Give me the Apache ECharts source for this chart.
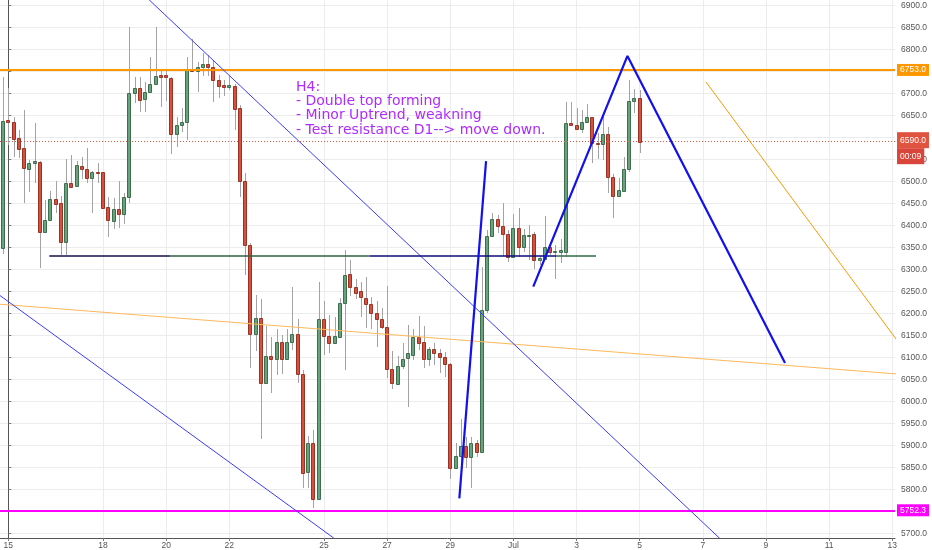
<!DOCTYPE html>
<html><head><meta charset="utf-8">
<script src="https://cdn.jsdelivr.net/npm/echarts@6/dist/echarts.min.js"></script>
<style>html,body{margin:0;padding:0;background:#fff}#c{width:932px;height:550px}</style>
</head><body><div id="c"></div>
<script>
// 4-hour bars; hours counted from 15 Jun 00:00
const firstBarHour = -4;
const barHours = 4;
const opens  = [6349,6639,6635,6599,6575,6529,6541,6543,6385,6412,6459,6450,6361,6496,6489,6535,6528,6508,6521,6520,6442,6410,6436,6426,6464,6700,6711,6686,6703,6720,6742,6741,6735,6608,6629,6635,6753,6751,6760,6767,6759,6730,6718,6715,6716,6666,6501,6355,6153,6189,6042,6103,6095,6134,6095,6135,6152,6061,5840,5905,5777,6186,6149,6133,6147,6224,6289,6260,6251,6234,6221,6201,6186,6168,6073,6039,6080,6098,6105,6145,6134,6095,6119,6109,6101,6085,5848,5876,5899,5873,5905,5885,6207,6375,6414,6398,6380,6329,6393,6351,6375,6380,6321,6323,6350,6339,6340,6340,6632,6628,6618,6634,6645,6587,6584,6607,6509,6467,6479,6527,6683,6689];
const closes = [6638,6634,6597,6573,6531,6542,6545,6385,6413,6459,6448,6361,6496,6486,6536,6527,6508,6520,6520,6439,6412,6436,6426,6464,6700,6711,6685,6704,6721,6740,6738,6736,6608,6629,6635,6753,6751,6760,6767,6759,6730,6717,6715,6718,6664,6501,6355,6153,6189,6042,6103,6095,6134,6095,6135,6152,6061,5836,5905,5777,6186,6149,6132,6148,6224,6288,6259,6245,6236,6220,6201,6186,6168,6073,6041,6080,6095,6109,6145,6133,6095,6119,6109,6101,6085,5848,5876,5899,5873,5905,5885,6207,6375,6414,6398,6380,6329,6393,6351,6377,6378,6321,6325,6350,6339,6341,6343,6632,6627,6618,6635,6645,6586,6584,6607,6509,6467,6480,6527,6682,6689,6590];
const lows   = [6335,6582,6556,6552,6451,6476,6497,6302,6382,6410,6427,6332,6332,6484,6487,6505,6495,6427,6497,6437,6373,6391,6393,6403,6450,6677,6658,6657,6700,6718,6668,6682,6561,6579,6613,6594,6750,6704,6739,6739,6681,6689,6694,6707,6617,6465,6287,6075,6115,5914,6040,6018,6060,6062,6093,6117,6042,5802,5802,5757,5775,6105,6109,6131,6143,6070,6239,6232,6192,6166,6164,6123,6164,6052,6027,6037,6073,5986,6094,6117,6075,6080,6082,6065,6056,5823,5846,5848,5848,5802,5873,5883,6200,6373,6382,6330,6317,6327,6329,6340,6320,6300,6310,6321,6332,6277,6314,6329,6625,6616,6610,6632,6542,6551,6548,6473,6416,6465,6477,6520,6655,6565];
const highs  = [6738,6711,6645,6617,6662,6548,6633,6546,6457,6477,6501,6467,6550,6560,6545,6556,6575,6523,6541,6522,6465,6461,6501,6473,6851,6736,6736,6726,6782,6850,6750,6752,6737,6646,6666,6782,6823,6770,6791,6787,6776,6742,6730,6740,6722,6673,6518,6360,6242,6232,6171,6147,6164,6151,6164,6259,6186,6071,5921,5935,6270,6229,6196,6192,6234,6344,6321,6279,6272,6282,6238,6227,6211,6262,6115,6103,6133,6173,6164,6194,6170,6124,6133,6118,6113,6088,5905,5959,5918,5918,5912,6306,6390,6429,6423,6450,6389,6426,6439,6391,6401,6385,6330,6420,6353,6355,6368,6681,6681,6666,6662,6676,6647,6609,6651,6624,6517,6507,6555,6730,6709,6707];

const dayTickHours = [0,72,120,168,240,288,336,384,432,480,528,576,624,672];
const dayTickNames = ['15','18','20','22','25','27','29','Jul','3','5','7','9','11','13'];
const priceTicks = [5700,5750,5800,5850,5900,5950,6000,6050,6100,6150,6200,6250,6300,6350,6400,6450,6500,6550,6600,6650,6700,6750,6800,6850,6900];

// drawn lines: [hour, price] endpoints
const upperTrend   = [[106.5, 6914], [541, 5688]];
const lowerTrend   = [[-8, 6244], [247.5, 5689]];
const longOrange   = [[-8, 6221], [676, 6062]];
const supportBlack = [[31.2, 6330], [122.9, 6330]];
const supportGreen1 = [[122.9, 6330], [274.9, 6330]];
const supportNavy  = [[274.9, 6330], [416.4, 6330]];
const supportGreen2 = [[416.4, 6330], [446.8, 6330]];
const impulseLeg   = [[342.9, 5779.5], [363.2, 6546]];
const zigzag       = [[399.1, 6260.5], [470.7, 6785], [590.5, 6087]];
const rightOrange  = [[530.4, 6725.7], [676, 6137]];
const resistance = 6753;
const support = 5752.3;
const lastPrice = 6590;
const noteText = 'H4:\n- Double top forming\n- Minor Uptrend, weakning\n- Test resistance D1--> move down.';

const candleData = opens.map((o, i) => [firstBarHour + i * barHours, o, closes[i], lows[i], highs[i]]);

const chart = echarts.init(document.getElementById('c'), null, {renderer: 'canvas'});
const lbl = {fontFamily: 'Liberation Sans', fontSize: 8.5};
function seg(data, color, width, z) {
  return {type: 'line', data: data, symbol: 'none', showSymbol: false, silent: true, animation: false,
    lineStyle: {color: color, width: width}, z: z || 5, clip: true};
}
chart.setOption({
  animation: false,
  backgroundColor: '#ffffff',
  grid: {left: 0, right: 37, top: 0, bottom: 12, containLabel: false},
  xAxis: {
    type: 'value', min: -6.3, max: 674.1,
    axisLine: {show: true, onZero: false, lineStyle: {color: '#555', width: 1}},
    axisTick: {show: true, customValues: dayTickHours, length: 3, lineStyle: {color: '#777'}},
    axisLabel: Object.assign({customValues: dayTickHours, color: '#555', margin: 3,
      formatter: v => dayTickNames[dayTickHours.indexOf(v)] || ''}, lbl),
    splitLine: {show: true, lineStyle: {color: '#ececec', width: 1}}
  },
  yAxis: {
    type: 'value', position: 'right', min: 5689.3, max: 6912,
    axisLine: {show: true, lineStyle: {color: '#555', width: 1}},
    axisTick: {show: true, inside: false, customValues: priceTicks, length: 3, lineStyle: {color: '#777'}},
    axisLabel: Object.assign({customValues: priceTicks, color: '#555', margin: 6,
      formatter: v => v.toFixed(1)}, lbl),
    splitLine: {show: true, lineStyle: {color: '#ececec', width: 1}}
  },
  graphic: [{
    type: 'text', left: 296, top: 80, z: 50, silent: true,
    style: {text: noteText, fill: '#b02bff', font: '14px "DejaVu Sans"', lineHeight: 14.3}
  }],
  series: [
    {
      type: 'custom', data: candleData, encode: {x: 0, y: [1, 2, 3, 4]}, clip: true, z: 3, silent: true,
      renderItem: function (params, api) {
        const t = api.value(0), o = api.value(1), c = api.value(2), l = api.value(3), h = api.value(4);
        const pH = api.coord([t, h]), pL = api.coord([t, l]), pO = api.coord([t, o]), pC = api.coord([t, c]);
        const cx = Math.round(pH[0]);
        const up = c >= o;
        const top = Math.round(Math.min(pO[1], pC[1]));
        const bot = Math.round(Math.max(pO[1], pC[1]));
        return {type: 'group', children: [
          {type: 'line', shape: {x1: cx + 0.5, y1: Math.round(pH[1]), x2: cx + 0.5, y2: Math.round(pL[1])},
            style: {stroke: '#a3a3a3', lineWidth: 1}},
          {type: 'rect', shape: {x: cx - 1.5, y: top + 0.5, width: 3, height: Math.max(1, bot - top)},
            style: {fill: up ? '#67a37b' : '#d6503d', stroke: up ? '#3d6f4e' : '#9a3326', lineWidth: 1}}
        ]};
      },
      markLine: {
        symbol: 'none', silent: true, animation: false, precision: 1,
        data: [
          {yAxis: resistance, lineStyle: {color: '#ff9800', width: 2, type: 'solid'},
            label: Object.assign({position: 'end', distance: 2, formatter: resistance.toFixed(1),
              backgroundColor: '#ff9800', color: '#fff', padding: [2, 3, 1, 3]}, lbl)},
          {yAxis: support, lineStyle: {color: '#ff00ff', width: 2, type: 'solid'},
            label: Object.assign({position: 'end', distance: 2, formatter: support.toFixed(1),
              backgroundColor: '#ff00ff', color: '#fff', padding: [2, 3, 1, 3]}, lbl)},
          {yAxis: lastPrice, lineStyle: {color: '#e8553f', width: 1, type: [1, 2]},
            label: {position: 'end', distance: 2,
              formatter: '{e|}\n{a|' + lastPrice.toFixed(1) + '}\n{b|00:09}',
              rich: {
                e: {height: 13, fontSize: 8.5},
                a: {backgroundColor: '#e0533f', color: '#fff', padding: [2, 3, 1, 3], fontSize: 8.5, fontFamily: 'Liberation Sans', height: 13},
                b: {backgroundColor: '#d9453a', color: '#fff', padding: [2, 3, 1, 3], fontSize: 8.5, fontFamily: 'Liberation Sans', height: 13}
              }}}
        ]
      }
    },
    seg(longOrange, '#ffb95c', 1, 4),
    seg(upperTrend, '#3b3bff', 1, 5),
    seg(lowerTrend, '#3b3bff', 1, 5),
    seg(supportBlack, '#10104a', 1.5, 6),
    seg(supportGreen1, '#2f5f3f', 1.5, 6),
    seg(supportNavy, '#0d0d7a', 1.5, 6),
    seg(supportGreen2, '#2f6b45', 1.5, 6),
    seg(impulseLeg, '#1010f0', 2.2, 7),
    seg(zigzag, '#1010f0', 2.2, 7),
    seg(rightOrange, '#ff9800', 1, 6)
  ]
});
</script>
</body></html>
